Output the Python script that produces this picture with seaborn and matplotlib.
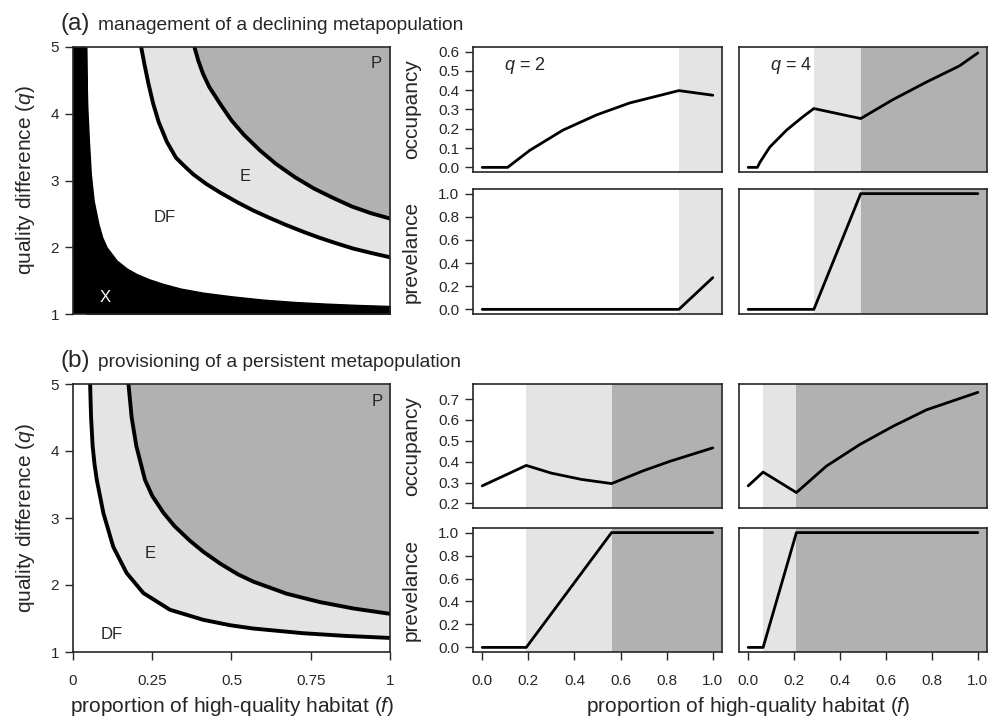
import numpy as np
import matplotlib
matplotlib.use("Agg")
import matplotlib.pyplot as plt
import seaborn as sns

# ---- region boundaries in the (f, q) plane ----
# (a) management of a declining metapopulation
a_black_f = [0.041, 0.043, 0.045, 0.050, 0.056, 0.065, 0.080, 0.092, 0.106, 0.138, 0.170, 0.200, 0.240, 0.285,
             0.340, 0.410, 0.500, 0.600, 0.700, 0.800, 0.900, 1.000]
a_black_q = [5.00, 4.50, 4.10, 3.60, 3.10, 2.70, 2.35, 2.15, 2.00, 1.80, 1.68, 1.60, 1.52, 1.45,
             1.38, 1.32, 1.265, 1.215, 1.18, 1.155, 1.135, 1.12]
a_low_f = [0.215, 0.225, 0.238, 0.253, 0.270, 0.296, 0.325, 0.355, 0.380, 0.420, 0.464, 0.520, 0.569,
           0.620, 0.674, 0.730, 0.779, 0.830, 0.884, 0.940, 1.000]
a_low_q = [5.00, 4.75, 4.45, 4.15, 3.88, 3.58, 3.34, 3.20, 3.09, 2.95, 2.82, 2.67, 2.55,
           2.44, 2.33, 2.225, 2.14, 2.06, 1.98, 1.915, 1.85]
a_high_f = [0.383, 0.395, 0.410, 0.430, 0.464, 0.500, 0.540, 0.590, 0.640, 0.700, 0.760, 0.820, 0.880, 0.940, 1.000]
a_high_q = [5.00, 4.80, 4.60, 4.40, 4.15, 3.90, 3.68, 3.45, 3.25, 3.05, 2.88, 2.74, 2.61, 2.51, 2.43]

# (b) provisioning of a persistent metapopulation
b_low_f = [0.054, 0.057, 0.062, 0.068, 0.075, 0.096, 0.127, 0.169, 0.222, 0.306, 0.411, 0.495, 0.569,
           0.727, 0.860, 1.000]
b_low_q = [5.00, 4.50, 4.07, 3.80, 3.57, 3.07, 2.57, 2.18, 1.88, 1.63, 1.48, 1.40, 1.35,
           1.28, 1.24, 1.21]
b_high_f = [0.175, 0.185, 0.200, 0.227, 0.250, 0.285, 0.320, 0.369, 0.410, 0.464, 0.520, 0.569,
            0.674, 0.779, 0.884, 1.000]
b_high_q = [5.00, 4.50, 4.07, 3.57, 3.33, 3.08, 2.88, 2.66, 2.50, 2.32, 2.16, 2.05,
            1.87, 1.745, 1.65, 1.57]

# ---- occupancy / prevalence along f for q = 2 and q = 4 ----
a2_occ_f = [0.0, 0.11, 0.206, 0.35, 0.496, 0.64, 0.75, 0.853, 1.0]
a2_occ = [0.0, 0.0, 0.088, 0.193, 0.272, 0.334, 0.367, 0.398, 0.374]
a2_prev_f = [0.0, 0.853, 1.0]
a2_prev = [0.0, 0.0, 0.274]
a4_occ_f = [0.0, 0.04, 0.051, 0.094, 0.167, 0.239, 0.286, 0.49, 0.63, 0.776, 0.92, 1.0]
a4_occ = [0.0, 0.0, 0.026, 0.105, 0.193, 0.263, 0.305, 0.253, 0.351, 0.442, 0.526, 0.593]
a4_prev_f = [0.0, 0.286, 0.49, 1.0]
a4_prev = [0.0, 0.0, 1.0, 1.0]

b2_occ_f = [0.0, 0.191, 0.30, 0.43, 0.561, 0.70, 0.815, 1.0]
b2_occ = [0.284, 0.382, 0.345, 0.315, 0.295, 0.357, 0.402, 0.466]
b2_prev_f = [0.0, 0.191, 0.561, 1.0]
b2_prev = [0.0, 0.0, 1.0, 1.0]
b4_occ_f = [0.0, 0.065, 0.21, 0.341, 0.486, 0.63, 0.776, 1.0]
b4_occ = [0.284, 0.35, 0.252, 0.379, 0.482, 0.569, 0.648, 0.732]
b4_prev_f = [0.0, 0.065, 0.21, 1.0]
b4_prev = [0.0, 0.0, 1.0, 1.0]

# regime limits along f: (start of E, start of P)
a2_regimes = (0.853, None)
a4_regimes = (0.286, 0.49)
b2_regimes = (0.191, 0.561)
b4_regimes = (0.065, 0.21)

LIGHT = "#e4e4e4"
DARK = "#b1b1b1"
INK = "#262626"

LABEL_FS = 15
TICK_FS = 11

W, H = 989, 720


def px_axes(fig, x0, y0, x1, y1):
    return fig.add_axes([x0 / W, 1 - y1 / H, (x1 - x0) / W, (y1 - y0) / H])


def style_box(ax):
    for s in ax.spines.values():
        s.set_visible(True)
        s.set_color(INK)
        s.set_linewidth(1.2)
    ax.tick_params(direction="out", length=6, width=1, color=INK, labelcolor=INK, labelsize=TICK_FS)
    ax.tick_params(axis="y", pad=4)
    ax.tick_params(axis="x", pad=10)


def draw_map(ax, low, high, black=None, labels=(), show_x=False):
    ax.set_facecolor("white")
    if black is not None:
        ax.fill_between(black[0], 1, black[1], facecolor="black", edgecolor="black", lw=1)
        ax.axvspan(0, black[0][0], facecolor="black", edgecolor="black", lw=1)
    ax.fill_between(low[0], low[1], 5, color=LIGHT, lw=0)
    ax.fill_between(high[0], high[1], 5, color=DARK, lw=0)
    for f, q in (low, high):
        sns.lineplot(x=f, y=q, ax=ax, color="black", lw=2.8, sort=False, estimator=None)
    for txt, f, q, col in labels:
        ax.text(f, q, txt, ha="center", va="center", fontsize=12, color=col)
    ax.set_xlim(0, 1)
    ax.set_ylim(1, 5)
    ax.set_yticks([1, 2, 3, 4, 5])
    ax.set_yticklabels(["1", "2", "3", "4", "5"])
    ax.set_ylabel("")
    ax.set_xlabel("")
    style_box(ax)
    if show_x:
        ax.set_xticks([0, 0.25, 0.5, 0.75, 1])
        ax.set_xticklabels(["0", "0.25", "0.5", "0.75", "1"])
    else:
        ax.set_xticks([])


def draw_line(ax, f, v, regimes, ylim, yticks, show_x, show_y, ylabel=None):
    e_start, p_start = regimes
    if e_start is not None:
        ax.axvspan(e_start, 1.1 if p_start is None else p_start, color=LIGHT, lw=0)
    if p_start is not None:
        ax.axvspan(p_start, 1.1, color=DARK, lw=0)
    sns.lineplot(x=f, y=v, ax=ax, color="black", lw=2.0, sort=False, estimator=None)
    pad = 0.04 * (ylim[1] - ylim[0])
    ax.set_xlim(-0.04, 1.04)
    ax.set_ylim(ylim[0] - pad, ylim[1] + pad)
    ax.set_xlabel("")
    ax.set_ylabel("")
    style_box(ax)
    if show_x:
        ticks = [0.0, 0.2, 0.4, 0.6, 0.8, 1.0]
        ax.set_xticks(ticks)
        ax.set_xticklabels([f"{t:.1f}" for t in ticks])
    else:
        ax.set_xticks([])
    if show_y:
        ax.set_yticks(yticks)
        ax.set_yticklabels([f"{t:.1f}" for t in yticks])
    else:
        ax.set_yticks([])
    if ylabel:
        ax.set_ylabel(ylabel, fontsize=LABEL_FS, color=INK)
        ax.yaxis.set_label_coords(-0.21, 0.5)


def main():
    sns.set_theme(style="ticks")
    plt.rcParams["font.family"] = ["Liberation Sans", "DejaVu Sans"]
    plt.rcParams["mathtext.fontset"] = "custom"
    plt.rcParams["mathtext.rm"] = "Liberation Sans"
    plt.rcParams["mathtext.it"] = "Liberation Sans:italic"

    fig = plt.figure(figsize=(W / 100, H / 100), dpi=100)

    # ---------------- (a) ----------------
    ax = px_axes(fig, 73, 47, 390, 314)
    draw_map(ax, (a_low_f, a_low_q), (a_high_f, a_high_q), black=(a_black_f, a_black_q),
             labels=[("P", 0.955, 4.75, INK), ("E", 0.543, 3.06, INK),
                     ("DF", 0.29, 2.45, INK), ("X", 0.10, 1.25, "white")])
    fig.text(26 / W, 1 - 180 / H, "quality difference ($q$)", rotation=90,
             ha="center", va="center", fontsize=LABEL_FS, color=INK)

    occ_a_lim, occ_a_ticks = (0.0, 0.6), [0.0, 0.1, 0.2, 0.3, 0.4, 0.5, 0.6]
    prev_lim, prev_ticks = (0.0, 1.0), [0.0, 0.2, 0.4, 0.6, 0.8, 1.0]

    ax = px_axes(fig, 473, 47, 722, 172)
    draw_line(ax, a2_occ_f, a2_occ, a2_regimes, occ_a_lim, occ_a_ticks, False, True, "occupancy")
    ax.text(0.184, 0.526, "$q$ = 2", fontsize=13, color=INK, ha="center", va="center")
    ax = px_axes(fig, 473, 189, 722, 314)
    draw_line(ax, a2_prev_f, a2_prev, a2_regimes, prev_lim, prev_ticks, False, True, "prevelance")
    ax = px_axes(fig, 739, 47, 987, 172)
    draw_line(ax, a4_occ_f, a4_occ, a4_regimes, occ_a_lim, occ_a_ticks, False, False)
    ax.text(0.188, 0.526, "$q$ = 4", fontsize=13, color=INK, ha="center", va="center")
    ax = px_axes(fig, 739, 189, 987, 314)
    draw_line(ax, a4_prev_f, a4_prev, a4_regimes, prev_lim, prev_ticks, False, False)

    fig.text(61 / W, 1 - 30 / H, "(a)", fontsize=17.5, color=INK, va="baseline")
    fig.text(98 / W, 1 - 30 / H, "management of a declining metapopulation",
             fontsize=13.8, color=INK, va="baseline")

    # ---------------- (b) ----------------
    ax = px_axes(fig, 73, 384, 390, 652)
    draw_map(ax, (b_low_f, b_low_q), (b_high_f, b_high_q),
             labels=[("P", 0.96, 4.74, INK), ("E", 0.243, 2.47, INK), ("DF", 0.123, 1.26, INK)],
             show_x=True)
    fig.text(26 / W, 1 - 518 / H, "quality difference ($q$)", rotation=90,
             ha="center", va="center", fontsize=LABEL_FS, color=INK)

    occ_b_lim, occ_b_ticks = (0.2, 0.75), [0.2, 0.3, 0.4, 0.5, 0.6, 0.7]

    ax = px_axes(fig, 473, 384, 722, 508)
    draw_line(ax, b2_occ_f, b2_occ, b2_regimes, occ_b_lim, occ_b_ticks, False, True, "occupancy")
    ax = px_axes(fig, 473, 528, 722, 652)
    draw_line(ax, b2_prev_f, b2_prev, b2_regimes, prev_lim, prev_ticks, True, True, "prevelance")
    ax = px_axes(fig, 739, 384, 987, 508)
    draw_line(ax, b4_occ_f, b4_occ, b4_regimes, occ_b_lim, occ_b_ticks, False, False)
    ax = px_axes(fig, 739, 528, 987, 652)
    draw_line(ax, b4_prev_f, b4_prev, b4_regimes, prev_lim, prev_ticks, True, False)

    fig.text(61 / W, 1 - 367 / H, "(b)", fontsize=17.5, color=INK, va="baseline")
    fig.text(98 / W, 1 - 367 / H, "provisioning of a persistent metapopulation",
             fontsize=13.8, color=INK, va="baseline")

    fig.text(232 / W, 1 - 706 / H, "proportion of high-quality habitat ($f$)",
             ha="center", va="center", fontsize=LABEL_FS, color=INK)
    fig.text(748 / W, 1 - 706 / H, "proportion of high-quality habitat ($f$)",
             ha="center", va="center", fontsize=LABEL_FS, color=INK)

    fig.savefig("out.png", dpi=100, facecolor="white")
    plt.close(fig)


if __name__ == "__main__":
    main()
